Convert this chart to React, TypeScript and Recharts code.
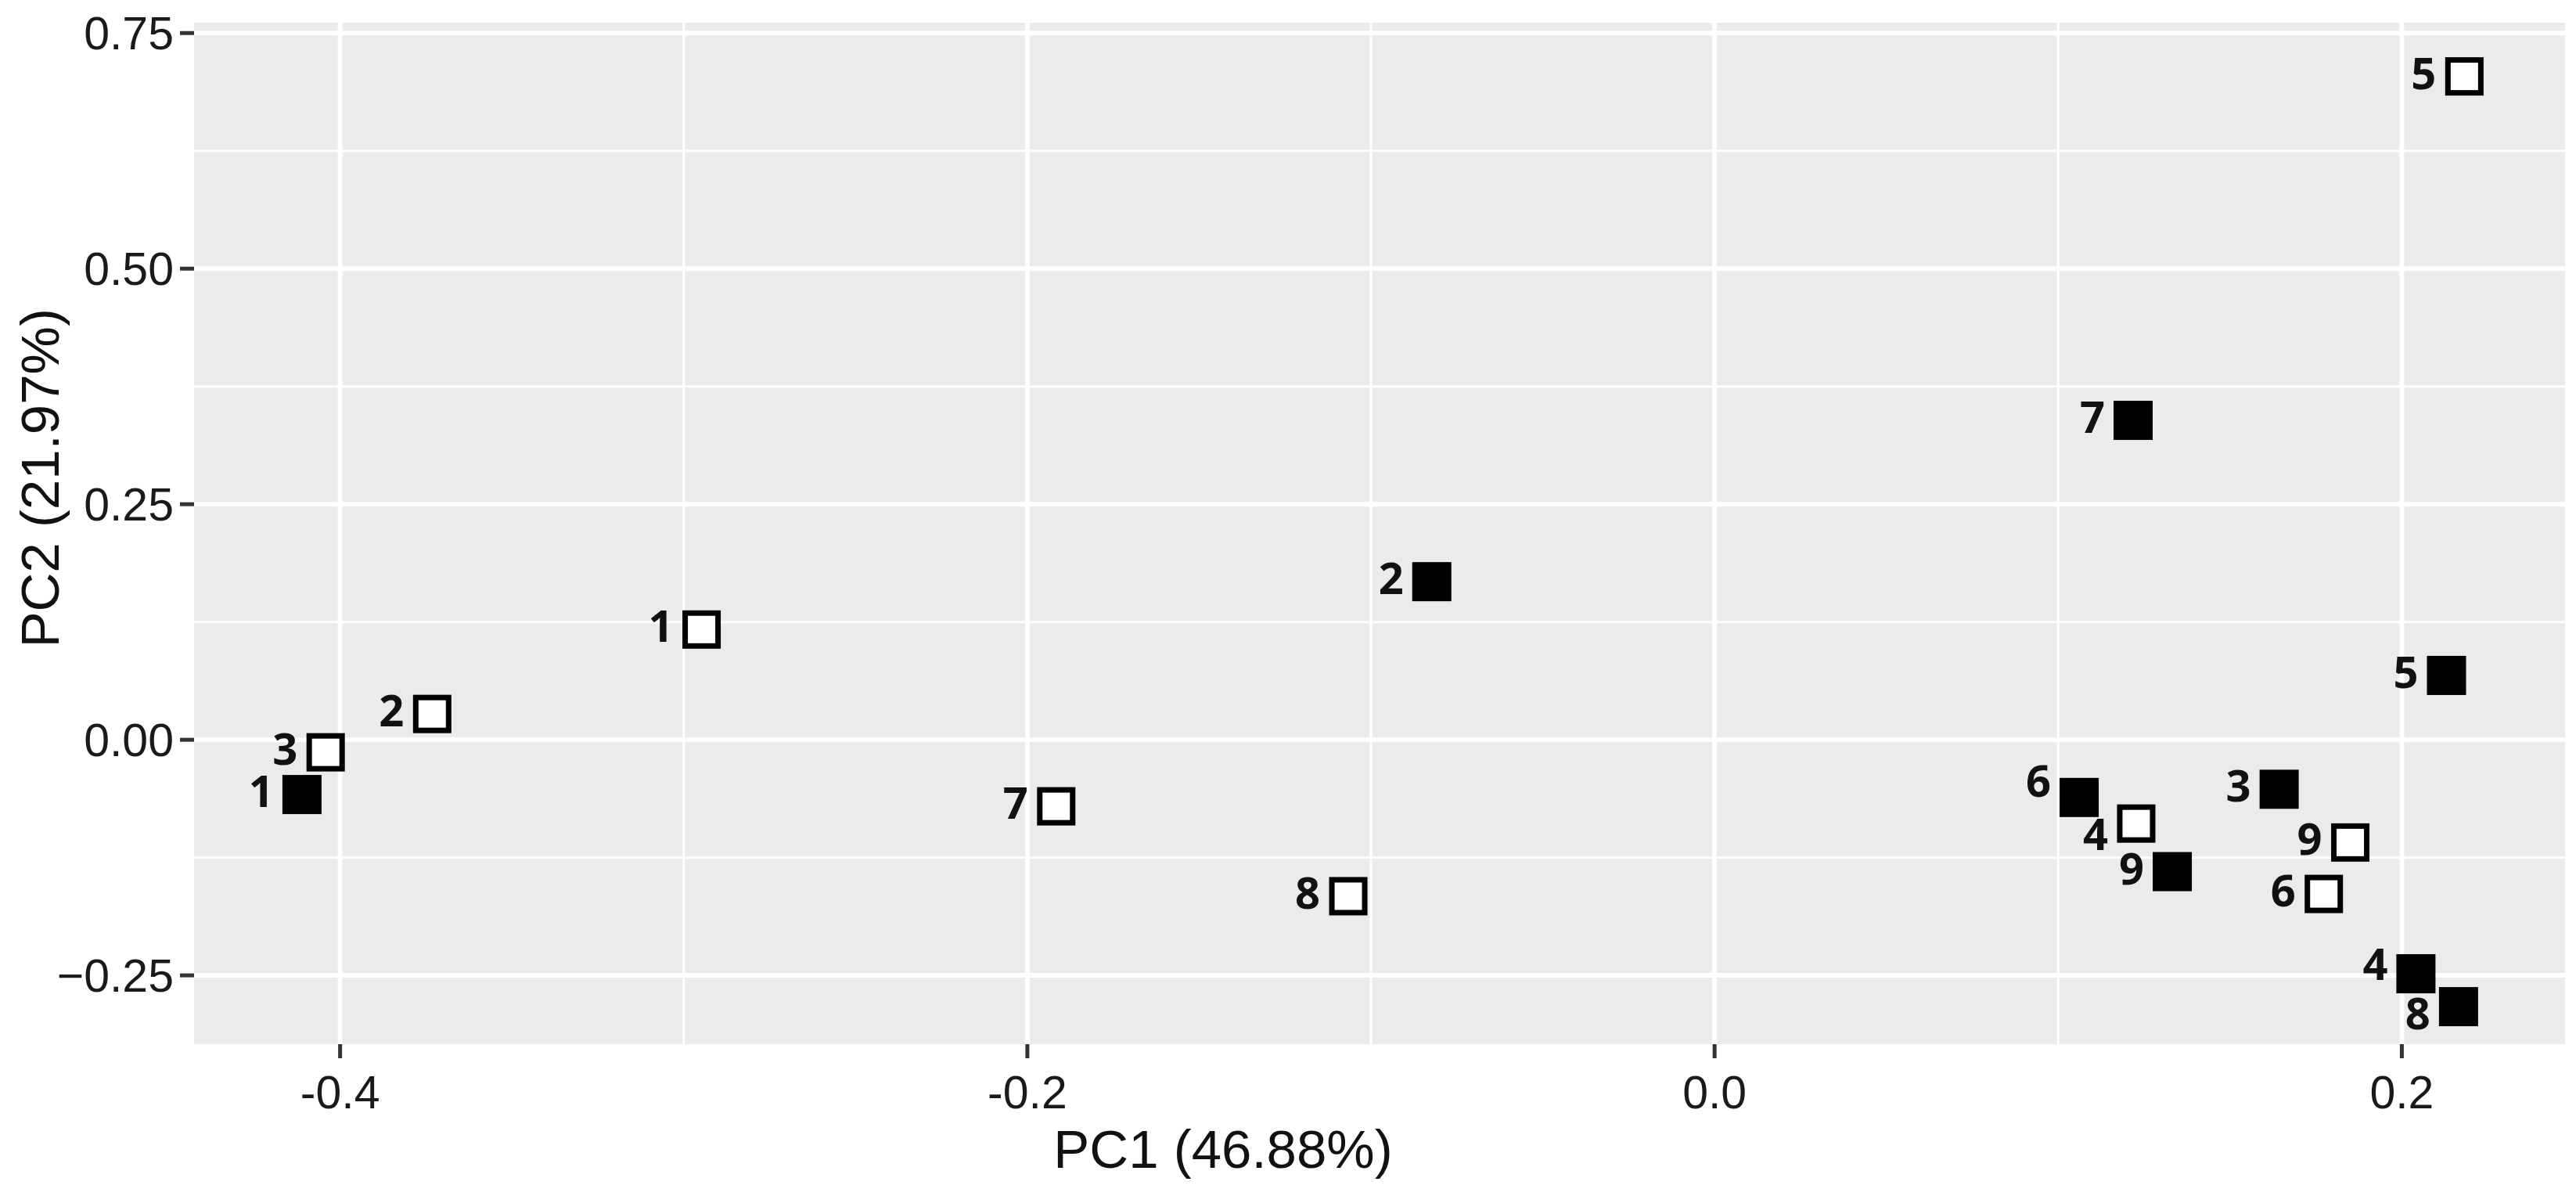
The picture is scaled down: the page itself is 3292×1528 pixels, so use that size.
import { ScatterChart, Scatter, XAxis, YAxis, CartesianGrid } from "recharts"

// sample numbers, same for both groups
const sampleIds = ["1", "2", "3", "4", "5", "6", "7", "8", "9"]

// open squares
const openPC1 = [-0.2948, -0.3732, -0.4042, 0.1227, 0.2182, 0.1773, -0.1916, -0.1066, 0.185]
const openPC2 = [0.117, 0.0274, -0.0133, -0.0889, 0.704, -0.1636, -0.0706, -0.166, -0.109]

// filled squares
const filledPC1 = [-0.4111, -0.0823, 0.1643, 0.2041, 0.213, 0.1061, 0.1218, 0.2165, 0.1332]
const filledPC2 = [-0.0581, 0.1678, -0.0525, -0.2483, 0.0683, -0.0612, 0.339, -0.2832, -0.1399]

const xTicks = [-0.4, -0.2, 0, 0.2]
const xTickLabels = ["-0.4", "-0.2", "0.0", "0.2"]
const yTicks = [-0.25, 0, 0.25, 0.5, 0.75]
const yTickLabels = ["\u22120.25", "0.00", "0.25", "0.50", "0.75"]
const xMinor = [-0.3, -0.1, 0.1]
const yMinor = [-0.125, 0.125, 0.375, 0.625]

const openData = sampleIds.map((id, i) => ({ id, x: openPC1[i], y: openPC2[i] }))
const filledData = sampleIds.map((id, i) => ({ id, x: filledPC1[i], y: filledPC2[i] }))

// small vertical nudges where labels were repelled in the original
const labelNudge: Record<string, number> = { o4: 18, f6: -17, f8: 13, f4: -8 }

const axisFont = "'Liberation Sans', Arial, sans-serif"

const makeShape = (filled: boolean) => (props: any) => {
  const { cx, cy, payload } = props
  const nudge = labelNudge[(filled ? "f" : "o") + payload.id] || 0
  return (
    <g>
      {filled ? (
        <rect x={cx - 25} y={cy - 25} width={50} height={50} fill="#000000" />
      ) : (
        <rect x={cx - 21} y={cy - 21} width={42} height={42} fill="#FFFFFF" stroke="#000000" strokeWidth={7} />
      )}
      <text
        x={cx - 36}
        y={cy + nudge + 16}
        textAnchor="end"
        fontFamily="'Open Sans', sans-serif"
        fontWeight={700}
        fontSize={56}
        fill="#111111"
      >
        {payload.id}
      </text>
    </g>
  )
}

export default function App() {
  return (
    <div style={{ position: "absolute", left: 0, top: 0, width: 3292, height: 1528, background: "#FFFFFF" }}>
      <ScatterChart width={3292} height={1528} margin={{ top: 29, right: 14, bottom: 0, left: 0 }}>
        <CartesianGrid fill="#EBEBEB" stroke="#FFFFFF" strokeWidth={3} horizontalValues={yMinor} verticalValues={xMinor} />
        <CartesianGrid stroke="#FFFFFF" strokeWidth={6} horizontalValues={yTicks} verticalValues={xTicks} />
        <XAxis
          type="number"
          dataKey="x"
          domain={[-0.4425, 0.2475]}
          ticks={xTicks}
          interval={0}
          allowDataOverflow
          height={194}
          axisLine={false}
          tickSize={18}
          tickMargin={22}
          tickLine={{ stroke: "#333333", strokeWidth: 5 }}
          tick={{ fontSize: 59, fill: "#1A1A1A", fontFamily: axisFont }}
          tickFormatter={(v: number) => xTickLabels[xTicks.indexOf(v)] ?? String(v)}
          label={{
            value: "PC1 (46.88%)",
            position: "insideBottom",
            offset: 36,
            dx: -200,
            fontSize: 69,
            fill: "#111111",
            fontFamily: axisFont,
          }}
        />
        <YAxis
          type="number"
          dataKey="y"
          domain={[-0.323, 0.761]}
          ticks={yTicks}
          interval={0}
          allowDataOverflow
          width={248}
          axisLine={false}
          tickSize={18}
          tickMargin={8}
          tickLine={{ stroke: "#333333", strokeWidth: 5 }}
          tick={{ fontSize: 59, fill: "#1A1A1A", fontFamily: axisFont }}
          tickFormatter={(v: number) => yTickLabels[yTicks.indexOf(v)] ?? String(v)}
          label={{
            value: "PC2 (21.97%)",
            position: "insideLeft",
            angle: -90,
            offset: 51,
            dy: 146,
            fontSize: 69,
            fill: "#111111",
            fontFamily: axisFont,
          }}
        />
        <Scatter data={openData} shape={makeShape(false)} isAnimationActive={false} />
        <Scatter data={filledData} shape={makeShape(true)} isAnimationActive={false} />
      </ScatterChart>
    </div>
  )
}
